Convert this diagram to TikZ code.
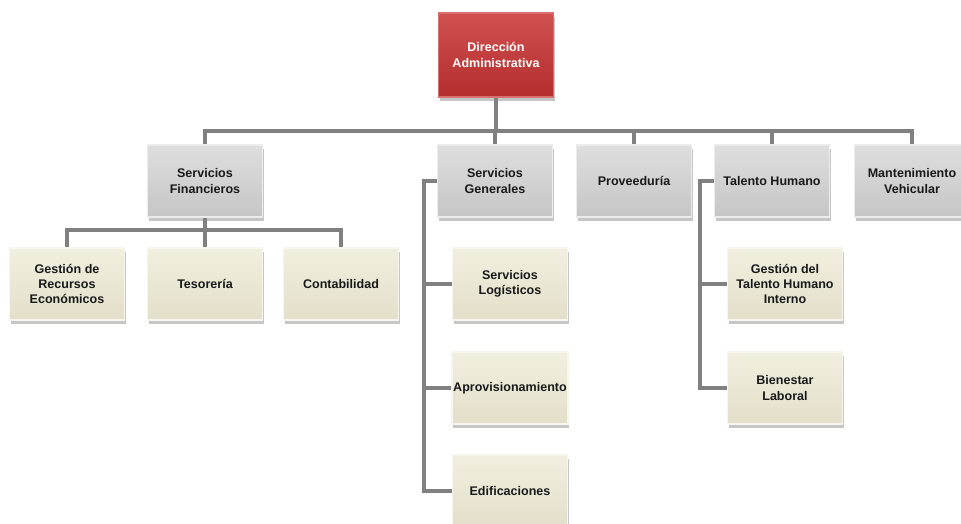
\documentclass[tikz,border=0pt]{standalone}
\usepackage{fontspec}
\setmainfont{Liberation Sans}
\usepackage{xcolor}
\usepackage{tikz}
\usetikzlibrary{positioning,shadows,backgrounds}
\definecolor{rojodir}{RGB}{200,50,50}
\definecolor{grisarea}{RGB}{208,208,208}
\definecolor{beigeund}{RGB}{236,232,210}
\definecolor{grislinea}{RGB}{128,128,128}
\tikzset{
  caja/.style={rectangle,align=center,inner sep=1pt,font=\fontsize{9.4}{11.3}\selectfont\bfseries,
    minimum width=86pt,minimum height=54pt,line width=1pt,
    drop shadow={opacity=0.45,shadow xshift=1pt,shadow yshift=-3pt}},
  dir/.style={caja,top color=rojodir!85!white,bottom color=rojodir!90!black,draw=rojodir!70!white,text=white,minimum height=63pt},
  area/.style={caja,top color=grisarea!70!white,bottom color=grisarea!95!black,draw=white!60!grisarea,text=black!90},
  unidad/.style={caja,top color=beigeund!70!white,bottom color=beigeund!96!black,draw=white!60!beigeund,text=black!90},
  linea/.style={draw=grislinea,line width=2.4pt,line cap=rect},
}

\begin{document}
\begin{tikzpicture}[x=0.75pt,y=-0.75pt]
  \useasboundingbox (0,0) rectangle (961,524);
  % direccion
  \node[dir] (dir) at (496,55) {Dirección\\Administrativa};
  % areas
  \node[area] (sf) at (205,181) {Servicios\\Financieros};
  \node[area] (sg) at (495,181) {Servicios\\Generales};
  \node[area] (prov) at (634,181) {Proveeduría};
  \node[area] (th) at (772,181) {Talento Humano};
  \node[area] (mv) at (912,181) {Mantenimiento\\Vehicular};
  % unidades
  \node[unidad] (grec) at (67,284) {Gestión de\\Recursos\\Económicos};
  \node[unidad] (tes) at (205,284) {Tesorería};
  \node[unidad] (cont) at (341,284) {Contabilidad};
  \node[unidad] (slog) at (510,284) {Servicios\\Logísticos};
  \node[unidad] (aprov) at (510,388) {Aprovisionamiento};
  \node[unidad] (edif) at (510,491) {Edificaciones};
  \node[unidad] (gthi) at (785,284) {Gestión del\\Talento Humano\\Interno};
  \node[unidad] (bien) at (785,388) {Bienestar\\Laboral};
  % conectores
  \begin{scope}[on background layer]
    \coordinate (bus) at (496,131);
    \coordinate (busf) at (205,230);
    \coordinate (sgx) at (424,0);
    \coordinate (thx) at (700,0);
    \draw[linea] (dir) -- (bus);
    \draw[linea] (bus -| sf) -- (bus -| mv);
    \foreach \n in {sf,sg,prov,th,mv} \draw[linea] (bus -| \n) -- (\n);
    \draw[linea] (sf) -- (tes);
    \draw[linea] (busf -| grec) -- (busf -| cont);
    \foreach \n in {grec,cont} \draw[linea] (busf -| \n) -- (\n);
    \draw[linea] (sg) -| (sgx |- edif) -- (edif);
    \foreach \n in {slog,aprov} \draw[linea] (\n) -- (sgx |- \n);
    \draw[linea] (th) -| (thx |- bien) -- (bien);
    \draw[linea] (gthi) -- (thx |- gthi);
  \end{scope}
\end{tikzpicture}
\end{document}
